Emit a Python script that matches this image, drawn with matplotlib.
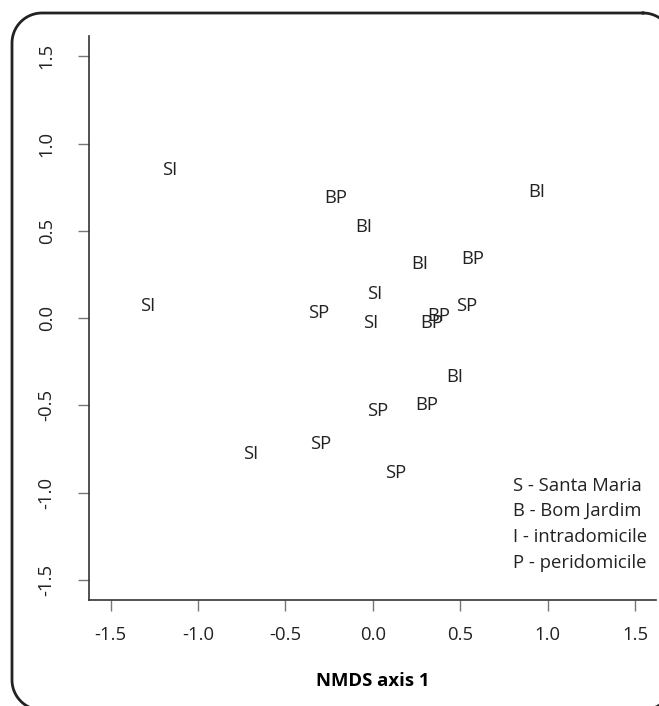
import numpy as np
import matplotlib
matplotlib.use("Agg")
import matplotlib.pyplot as plt
from matplotlib.lines import Line2D

plt.rcParams["font.family"] = ["Open Sans", "DejaVu Sans"]

# NMDS site scores
labels = ["SI", "SI", "BP", "BI", "BI", "BI", "BP", "SI", "SI", "SP",
          "BP", "BP", "SP", "BI", "BP", "SP", "SP", "SI", "SP"]
nmds1 = [-1.16, -1.29, -0.21, -0.05, 0.94, 0.27, 0.57, 0.01, -0.01, -0.31,
         0.38, 0.34, 0.54, 0.47, 0.31, 0.03, -0.30, -0.70, 0.13]
nmds2 = [0.85, 0.07, 0.69, 0.52, 0.72, 0.31, 0.34, 0.14, -0.03, 0.03,
         0.01, -0.03, 0.07, -0.34, -0.50, -0.53, -0.72, -0.78, -0.89]
ticks = [-1.5, -1.0, -0.5, 0.0, 0.5, 1.0, 1.5]
key = ["S - Santa Maria", "B - Bom Jardim", "I - intradomicile", "P - peridomicile"]
key_y = [-0.96, -1.105, -1.255, -1.405]

FS = 13.3
fig = plt.figure(figsize=(6.59, 7.06), dpi=100)
ax = fig.add_axes([0.1351, 0.150, 0.8603, 0.799])

for lab, x, y in zip(labels, nmds1, nmds2):
    ax.text(x, y, lab, ha="center", va="center", fontsize=FS, color="#222222")
for t, y in zip(key, key_y):
    ax.text(0.80, y, t, ha="left", va="center", fontsize=FS, color="#222222")

ax.set_xlim(-1.623, 1.62)
ax.set_ylim(-1.616, 1.616)
ax.set_xticks(ticks)
ax.set_yticks(ticks)
ax.set_xticklabels(["%.1f" % t for t in ticks])
ax.set_yticklabels(["%.1f" % t for t in ticks], rotation=90, va="center")
ax.tick_params(direction="out", length=8, width=1, color="#777777",
               labelsize=FS, labelcolor="#222222")
ax.tick_params(axis="x", pad=11)
ax.tick_params(axis="y", pad=16)
for s in ("top", "right"):
    ax.spines[s].set_visible(False)
for s in ("left", "bottom"):
    ax.spines[s].set_color("#333333"); ax.spines[s].set_linewidth(1.2)
ax.set_xlabel("NMDS axis 1", fontsize=FS, fontweight="bold", labelpad=20)

# rounded frame around the panel, in inches; runs off the right and bottom edges.
# built as a plain polyline: agg mangles bezier corners that cross the canvas edge
x0, x1, y0, y1, r = 0.12, 6.73, -0.04, 6.93, 0.30
corners = [(x1 - r, y1 - r, 90, 0), (x1 - r, y0 + r, 0, -90),
           (x0 + r, y0 + r, -90, -180), (x0 + r, y1 - r, 180, 90)]
fx, fy = [], []
for cx, cy, a0, a1 in corners:
    a = np.radians(np.linspace(a0, a1, 24))
    fx += list(cx + r * np.cos(a)); fy += list(cy + r * np.sin(a))
fx.append(fx[0]); fy.append(fy[0])
fig.add_artist(Line2D(fx, fy, transform=fig.dpi_scale_trans, color="#222222",
                      lw=2, solid_joinstyle="round"))

fig.savefig("out.png", dpi=100)
